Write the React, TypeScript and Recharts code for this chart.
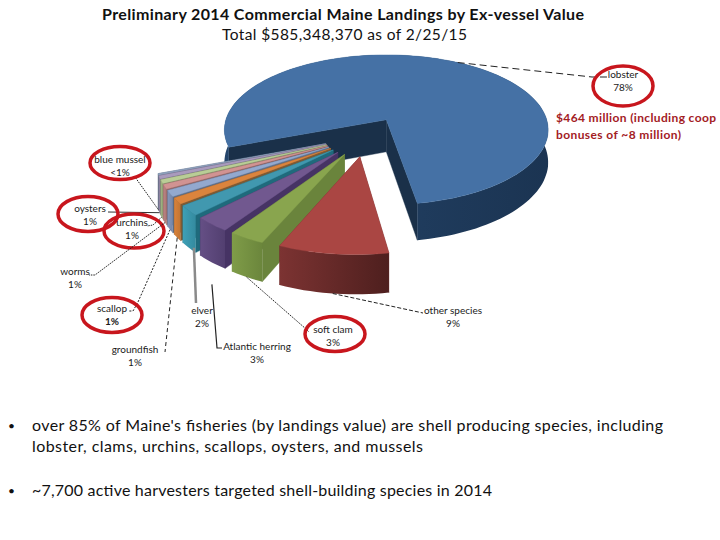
import { Pie, PieChart } from "recharts";

// values are shares of landings value, in paint order (back slices first)
const SPECIES = ["lobster", "blue mussel", "oysters", "urchins", "worms", "scallop", "groundfish", "elver", "Atlantic herring", "soft clam", "other species"];
const VALUES = [78, 0.3, 0.6, 0.7, 0.9, 1.2, 1.2, 2, 3, 3, 9];
const PCT_LABELS = ["78%", "<1%", "1%", "1%", "1%", "1%", "1%", "2%", "3%", "3%", "9%"];

const TOP_COLORS = ["#4571a5", "#8d9fbb", "#a99bbd", "#b9cd96", "#d19392", "#93a9cf", "#db843d", "#4198af", "#71588f", "#89a54e", "#aa4643"];
const CUT_COLORS = ["#1a3049", "#5f6c80", "#6e6480", "#7a8862", "#8c6161", "#5f6e88", "#7d5a34", "#1f6a7c", "#463364", "#6a843c", "#6e2c2b"];
const WALL_LIGHT = ["#25466c", "#7d8da5", "#9488a8", "#a3b684", "#bd8483", "#8496bb", "#d9823a", "#3ea0b6", "#654f85", "#7f9c48", "#7c3332"];
const WALL_DARK = ["#1b3452", "#6f7d93", "#847996", "#93a576", "#aa7675", "#7586a8", "#c27433", "#348a9f", "#523f70", "#6b863c", "#4e1f1e"];

const LABEL_X = [623, 120, 90, 132, 75, 112, 135, 202, 257, 333, 453];
const LABEL_Y = [75, 160, 209, 223, 272, 309, 350, 311, 347, 330, 311];
const RINGS: (number[] | null)[] = [[623, 86], [120, 163], [88, 214], [134, 231], null, [112, 315], null, null, null, [335, 334], null];
const RING_RY = [20, 16.5, 17.5, 17, 0, 17.5, 0, 0, 0, 17.5, 0];
const LEADER_NUDGE = [[0, 0], [0, 0], [0, 0], [0, 0], [0, 0], [0, 0], [0, 0], [5, 0], [0, 22], [0, 0], [0, 0]];
const LEADER_ENDS = [
  [[592, 77], [608, 77]],
  [[135, 177]],
  [[108, 212]],
  [[153, 225], [147, 226]],
  [[95, 275], [89, 275]],
  [[138, 302], [133, 311], [129, 311]],
  [[165, 352]],
  [[196, 303]],
  [[217, 348], [222, 348]],
  [[306, 329], [309, 332]],
  [[423, 313]],
];
const LEADER_DASH = ["7 4", "1.5 1", "none", "1.5 1", "1.5 1", "2 1.5", "4 3", "none", "none", "1.5 1", "4 2"];
const LEADER_COLOR = ["#222", "#222", "#333", "#222", "#222", "#222", "#222", "#8a8a8a", "#222", "#222", "#222"];
const LEADER_WIDTH = [1, 1, 1, 1, 1, 1, 1, 2.5, 1.2, 1, 1];

const chartData = SPECIES.map((name, i) => ({ name, value: VALUES[i] }));

const TILT = 0.459;
const PERSPECTIVE = 0.1333;
const EXPLODE = 0.253;
const ORIGIN = [-0.13, -0.217];
const DEPTH = 32;
const RAD = Math.PI / 180;

function project(p: any, u: number, v: number) {
  const w = 1 + PERSPECTIVE * v;
  return { x: p.cx + (p.outerRadius * u) / w, y: p.cy - (p.outerRadius * TILT * v) / w, h: DEPTH / w };
}

function sliceApex(mid: number) {
  return [ORIGIN[0] + EXPLODE * Math.cos(mid * RAD), ORIGIN[1] + EXPLODE * Math.sin(mid * RAD)];
}

function toPath(points: number[][]) {
  return "M" + points.map((q) => q[0].toFixed(1) + "," + q[1].toFixed(1)).join("L") + "Z";
}

function Slice3D(props: any) {
  const { startAngle, endAngle, index } = props;
  const mid = (startAngle + endAngle) / 2;
  const a = sliceApex(mid);
  const apex = project(props, a[0], a[1]);
  const steps = Math.max(2, Math.ceil((endAngle - startAngle) / 2));
  const arc = [];
  for (let i = 0; i <= steps; i++) {
    const t = (startAngle + ((endAngle - startAngle) * i) / steps) * RAD;
    arc.push(project(props, a[0] + Math.cos(t), a[1] + Math.sin(t)));
  }
  const first = arc[0];
  const last = arc[arc.length - 1];
  const wallTop = arc.map((q) => [q.x, q.y]);
  const wallBottom = arc.map((q) => [q.x, q.y + q.h]).reverse();
  const gradId = "wall-" + index;
  const cut = CUT_COLORS[index];
  const top = TOP_COLORS[index];
  return (
    <g>
      <defs>
        <linearGradient id={gradId} x1="0" y1="0" x2="1" y2="0">
          <stop offset="0" stopColor={WALL_LIGHT[index]} />
          <stop offset="1" stopColor={WALL_DARK[index]} />
        </linearGradient>
      </defs>
      <path d={toPath([[apex.x, apex.y], [first.x, first.y], [first.x, first.y + first.h], [apex.x, apex.y + apex.h]])} fill={cut} stroke={cut} strokeWidth={0.4} />
      <path d={toPath([[apex.x, apex.y], [last.x, last.y], [last.x, last.y + last.h], [apex.x, apex.y + apex.h]])} fill={cut} stroke={cut} strokeWidth={0.4} />
      <path d={toPath([...wallTop, ...wallBottom])} fill={`url(#${gradId})`} />
      <path d={toPath([[apex.x, apex.y], ...wallTop])} fill={top} stroke={top} strokeWidth={0.4} />
    </g>
  );
}

function SliceLabel(props: any) {
  const { index, midAngle } = props;
  const a = sliceApex(midAngle);
  const t = midAngle * RAD;
  const edge = project(props, a[0] + Math.cos(t), a[1] + Math.sin(t));
  // the lobster leader leaves the far rim, the others leave the bottom of the wall
  const startY = index === 0 ? edge.y : edge.y + edge.h;
  const nudge = LEADER_NUDGE[index];
  const pts = [[edge.x + nudge[0], startY + nudge[1]], ...LEADER_ENDS[index]];
  const ring = RINGS[index];
  const x = LABEL_X[index];
  const y = LABEL_Y[index];
  const dash = LEADER_DASH[index];
  return (
    <g>
      <polyline
        points={pts.map((q) => q.join(",")).join(" ")}
        fill="none"
        stroke={LEADER_COLOR[index]}
        strokeWidth={LEADER_WIDTH[index]}
        strokeDasharray={dash === "none" ? undefined : dash}
      />
      {ring && <ellipse cx={ring[0]} cy={ring[1]} rx={30} ry={RING_RY[index]} fill="none" stroke="#c8161d" strokeWidth={3.5} />}
      <text x={x} y={y + 3} fontFamily="Lato" fontSize={10} fill="#1a1a1a" stroke="none" textAnchor="middle">{SPECIES[index]}</text>
      <text x={x} y={y + 16} fontFamily="Lato" fontSize={10} fontWeight={index === 5 ? 700 : 400} fill="#1a1a1a" stroke="none" textAnchor="middle">{PCT_LABELS[index]}</text>
    </g>
  );
}

function PageText() {
  return (
    <svg width={720} height={540} style={{ position: "absolute", left: 0, top: 0 }}>
      <g fontFamily="Lato" fill="#111">
        <text x={102} y={20} fontSize={16} fontWeight={700} textLength={482}>Preliminary 2014 Commercial Maine Landings by Ex-vessel Value</text>
        <text x={222} y={40} fontSize={15.5} textLength={245}>Total $585,348,370 as of 2/25/15</text>
        <text x={8} y={430} fontSize={12}>•</text>
        <text x={32} y={431} fontSize={16} textLength={631}>over 85% of Maine's fisheries (by landings value) are shell producing species, including</text>
        <text x={32} y={452} fontSize={16} textLength={391}>lobster, clams, urchins, scallops, oysters, and mussels</text>
        <text x={8} y={495} fontSize={12}>•</text>
        <text x={32} y={496} fontSize={16} textLength={460}>~7,700 active harvesters targeted shell-building species in 2014</text>
      </g>
      <g fontFamily="Lato" fontSize={12} fontWeight={700} fill="#a3201f">
        <text x={556} y={122} textLength={160}>$464 million (including coop</text>
        <text x={556} y={139} textLength={125}>bonuses of ~8 million)</text>
      </g>
    </svg>
  );
}

export default function App() {
  return (
    <div style={{ position: "absolute", left: 0, top: 0, width: 720, height: 540, background: "#fff" }}>
      <PieChart width={720} height={540} margin={{ top: 0, right: 0, bottom: 0, left: 0 }}>
        <Pie
          data={chartData}
          dataKey="value"
          nameKey="name"
          cx={387}
          cy={120}
          outerRadius={160.5}
          startAngle={-80.3}
          endAngle={279.7}
          stroke="none"
          shape={Slice3D}
          label={SliceLabel}
          labelLine={false}
          isAnimationActive={false}
        />
      </PieChart>
      <PageText />
    </div>
  );
}
